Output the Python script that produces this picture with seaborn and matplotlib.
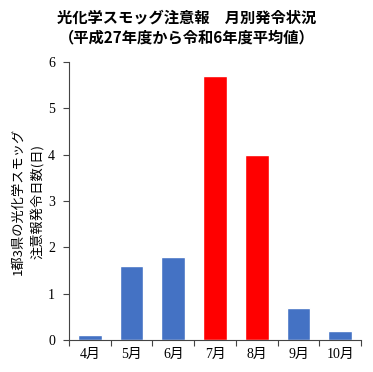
import matplotlib
matplotlib.use("Agg")
import matplotlib.pyplot as plt
import seaborn as sns
import pandas as pd
import numpy as np
from matplotlib.ticker import FixedLocator

months = ["4月", "5月", "6月", "7月", "8月", "9月", "10月"]
values = [0.1, 1.6, 1.8, 5.7, 4.0, 0.7, 0.2]
colors = ["#4472C4", "#4472C4", "#4472C4", "#FF0000", "#FF0000", "#4472C4", "#4472C4"]
yticks = [0, 1, 2, 3, 4, 5, 6]

sns.set_style("ticks")
plt.rcParams['font.family'] = ['Liberation Serif', 'Noto Sans CJK JP']
plt.rcParams['text.color'] = 'black'
plt.rcParams['xtick.color'] = '#444444'
plt.rcParams['ytick.color'] = '#444444'
plt.rcParams['xtick.labelcolor'] = 'black'
plt.rcParams['ytick.labelcolor'] = 'black'

df = pd.DataFrame({"month": months, "value": values})

fig = plt.figure(figsize=(3.73, 3.72), dpi=100)
ax = fig.add_axes([0.185, 0.086, 0.783, 0.747])
sns.barplot(data=df, x="month", y="value", hue="month", palette=colors,
            legend=False, width=0.57, ax=ax, saturation=1)

ax.set_ylim(0, 6)
ax.set_xlim(-0.5, len(months) - 0.5)
ax.set_yticks(yticks)
ax.set_yticklabels([str(v) for v in yticks], fontsize=10)
ax.set_xticks(range(len(months)))
ax.set_xticklabels(months, fontsize=10)
ax.tick_params(axis='x', which='major', length=0, pad=6)
ax.xaxis.set_minor_locator(FixedLocator(np.arange(-0.5, len(months), 1.0)))
ax.tick_params(axis='x', which='minor', length=4, width=0.8)
ax.tick_params(axis='y', length=4, width=0.8, pad=6)
for s in ['top', 'right']:
    ax.spines[s].set_visible(False)
for s in ['left', 'bottom']:
    ax.spines[s].set_linewidth(0.8)
    ax.spines[s].set_color('#444444')
ax.set_xlabel("")
ax.set_ylabel("1都3県の光化学スモッグ\n注意報発令日数(日)", fontsize=9.5, color='black',
              family=['Noto Sans CJK JP', 'DejaVu Sans'], linespacing=1.5, labelpad=3)

fig.text(0.5, 0.952, "光化学スモッグ注意報　月別発令状況", ha='center', va='center',
         fontsize=11, fontweight='bold', family=['Noto Sans CJK JP', 'DejaVu Sans'])
fig.text(0.5, 0.898, "（平成27年度から令和6年度平均値）", ha='center', va='center',
         fontsize=11, fontweight='bold', family=['Noto Sans CJK JP', 'DejaVu Sans'])

fig.savefig("out.png", dpi=100)
